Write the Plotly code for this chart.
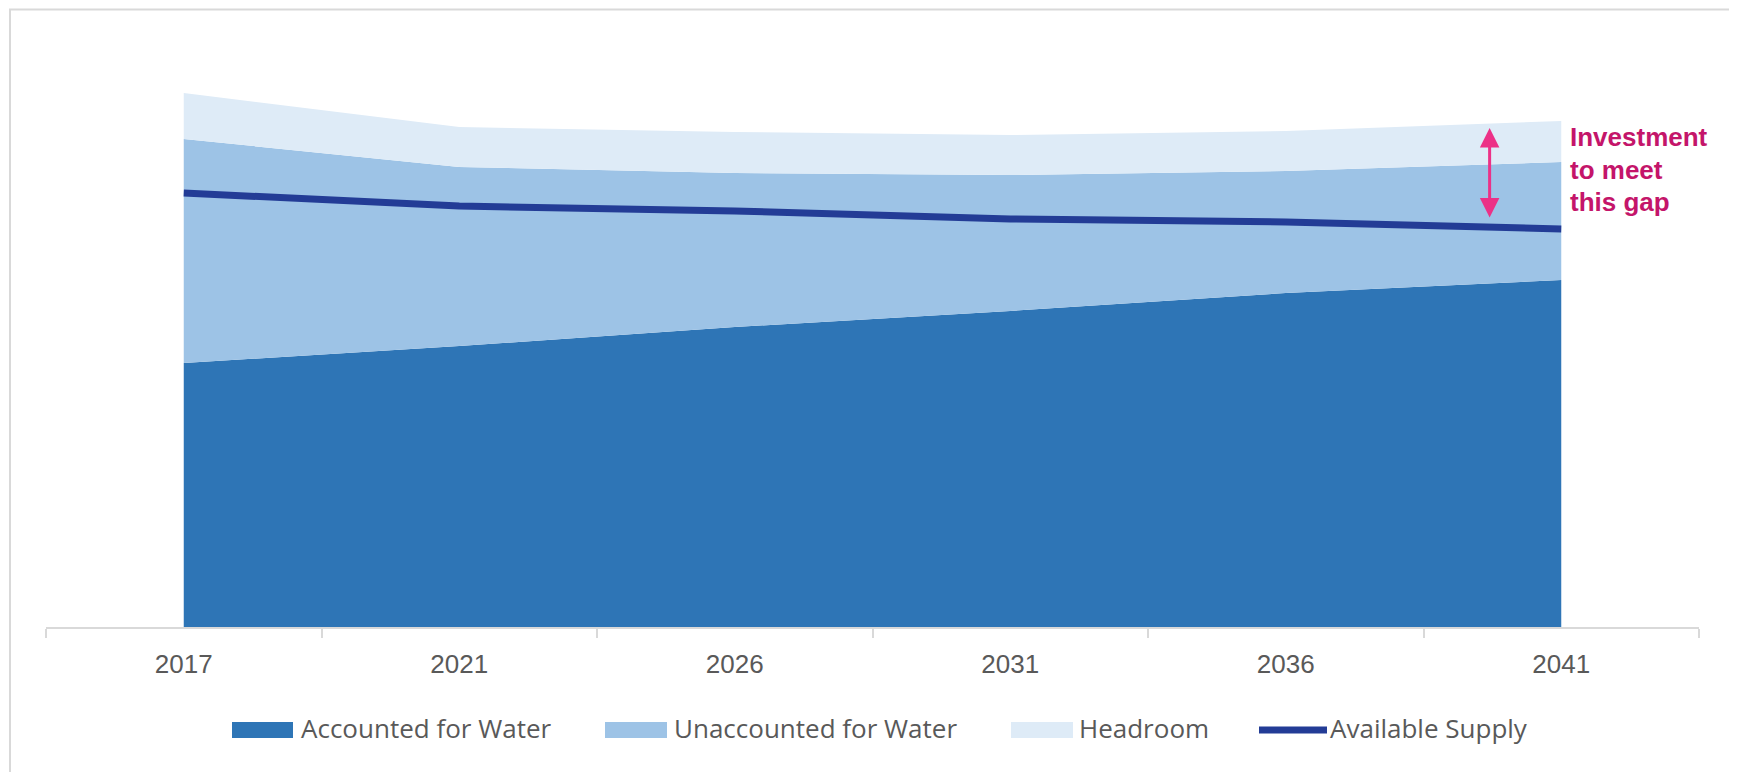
import plotly.graph_objects as go

# ---- data ----
years = ["2017", "2021", "2026", "2031", "2036", "2041"]
accounted = [26.4, 28.1, 30.0, 31.6, 33.4, 34.7]
unaccounted = [22.4, 17.9, 15.4, 13.6, 12.2, 11.8]
headroom = [4.6, 4.0, 4.1, 4.0, 4.0, 4.1]
supply = [43.4, 42.1, 41.6, 40.8, 40.5, 39.8]

legend_names = ["Accounted for Water", "Unaccounted for Water", "Headroom", "Available Supply"]
note_lines = ["Investment", "to meet", "this gap"]

# ---- styles ----
C_ACC = "#2E75B6"
C_UNACC = "#9DC3E6"
C_HEAD = "#DEEBF7"
C_SUP = "#233C96"
C_TEXT = "#595959"
C_GRID = "#D9D9D9"
C_NOTE = "#C4156A"
C_ARROW = "#EC3187"
FONT = "Open Sans, Liberation Sans, Arial, sans-serif"
TICKFONT = "Liberation Sans, Arial, sans-serif"

OFF = 8  # page offset of the figure (body margin)
W, H = 1737 - OFF, 772 - OFF
# target page coordinates of the plot area
P_LEFT, P_RIGHT, P_TOP, P_BOTTOM = 46, 1699, 77, 627
ML = P_LEFT - OFF
MT = P_TOP - OFF
MR = W - (P_RIGHT - OFF)
MB = H - (P_BOTTOM - OFF)
PW = P_RIGHT - P_LEFT
PH = P_BOTTOM - P_TOP
YMAX = 55


def px_x(p):
    return (p - P_LEFT) / PW


def px_y(p):
    return (P_BOTTOM - p) / PH


fig = go.Figure()
for name, vals, col in [(legend_names[0], accounted, C_ACC),
                        (legend_names[1], unaccounted, C_UNACC),
                        (legend_names[2], headroom, C_HEAD)]:
    fig.add_trace(go.Scatter(x=years, y=vals, name=name, mode="lines",
                             stackgroup="one", line=dict(width=0, color=col),
                             fillcolor=col, showlegend=False, hoverinfo="skip"))
fig.add_trace(go.Scatter(x=years, y=supply, name=legend_names[3], mode="lines",
                         line=dict(width=7, color=C_SUP), showlegend=False,
                         hoverinfo="skip"))

shapes = []
annotations = []

# outer border
shapes.append(dict(type="rect", xref="paper", yref="paper",
                   x0=px_x(10), x1=px_x(1733), y0=px_y(800), y1=px_y(OFF + 1.5),
                   line=dict(color=C_GRID, width=2), fillcolor="rgba(0,0,0,0)",
                   layer="above"))

# custom legend
sw_y0, sw_y1, txt_y = 722, 738, 728
legend_items = [
    (232, 293, 302, C_ACC, "rect"),
    (605, 667, 675, C_UNACC, "rect"),
    (1011, 1073, 1080, C_HEAD, "rect"),
    (1259, 1327, 1331, C_SUP, "line"),
]
for (x0, x1, tx, col, kind), name in zip(legend_items, legend_names):
    if kind == "rect":
        shapes.append(dict(type="rect", xref="paper", yref="paper",
                           x0=px_x(x0), x1=px_x(x1), y0=px_y(sw_y1), y1=px_y(sw_y0),
                           fillcolor=col, line=dict(width=0)))
    else:
        shapes.append(dict(type="line", xref="paper", yref="paper",
                           x0=px_x(x0), x1=px_x(x1), y0=px_y(730), y1=px_y(730),
                           line=dict(color=col, width=7)))
    annotations.append(dict(xref="paper", yref="paper", x=px_x(tx), y=px_y(txt_y),
                            text=name, showarrow=False, xanchor="left",
                            yanchor="middle", xshift=-3,
                            font=dict(family=FONT, size=26, color=C_TEXT)))

# gap arrow
annotations.append(dict(xref="x", yref="y", axref="x", ayref="y",
                        x=4.74, y=49.9, ax=4.74, ay=40.8, text="",
                        showarrow=True, arrowhead=2, arrowside="end+start",
                        arrowsize=1.3, arrowwidth=3, arrowcolor=C_ARROW,
                        standoff=0, startstandoff=0))

# note text
for ln, py in zip(note_lines, [137, 169.5, 202]):
    annotations.append(dict(xref="paper", yref="paper", x=px_x(1571), y=px_y(py),
                            text=ln, showarrow=False, xanchor="left",
                            yanchor="middle", xshift=-3,
                            font=dict(family="Liberation Sans, Arial, sans-serif",
                                      size=26, color=C_NOTE, weight="bold")))

fig.update_layout(
    width=W, height=H,
    margin=dict(l=ML, r=MR, t=MT, b=MB),
    paper_bgcolor="white", plot_bgcolor="white",
    showlegend=False,
    shapes=shapes,
    annotations=annotations,
    xaxis=dict(type="category", range=[-0.5, 5.5], tickson="boundaries",
               ticks="outside", ticklen=9, tickwidth=2, tickcolor=C_GRID,
               showline=True, linecolor=C_GRID, linewidth=2,
               showgrid=False, zeroline=False,
               ticklabelstandoff=13,
               tickfont=dict(family=TICKFONT, size=26, color=C_TEXT)),
    yaxis=dict(range=[0, YMAX], visible=False, showgrid=False, zeroline=False),
)

fig.write_html("out.html")
